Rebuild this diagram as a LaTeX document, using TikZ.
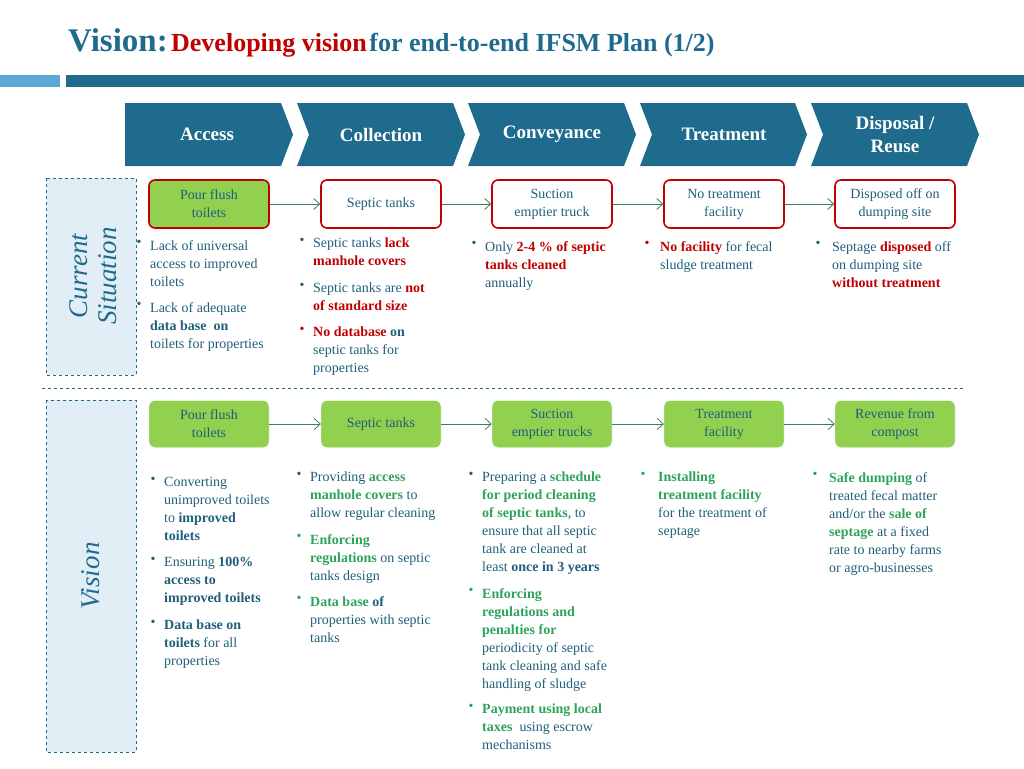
\documentclass[tikz,border=0pt]{standalone}
\usepackage{fontspec}
\setmainfont{Liberation Serif}
\usetikzlibrary{arrows.meta}
\definecolor{teal}{HTML}{1F6B8E}
\definecolor{txt}{HTML}{1F5F7A}
\definecolor{redd}{HTML}{C00000}
\definecolor{grn}{HTML}{2EA35A}
\definecolor{gfill}{HTML}{92D050}
\definecolor{lblue}{HTML}{5BA8D6}
\definecolor{sideb}{HTML}{E2EEF6}
\definecolor{arr}{HTML}{3E7D5E}
\newcommand{\rb}[1]{\textbf{\color{redd}#1}}
\newcommand{\gb}[1]{\textbf{\color{grn}#1}}
\newcommand{\tb}[1]{\textbf{#1}}
\begin{document}
\begin{tikzpicture}[x=1pt,y=-1pt,
  chev/.style={fill=teal,draw=none},
  chtxt/.style={text=white,font=\fontsize{19}{23}\selectfont\bfseries,align=center},
  cbox/.style={draw=redd,line width=1.6pt,fill=white,rounded corners=6pt,minimum width=120pt,minimum height=48pt,align=center,text=txt,font=\fontsize{14}{18}\selectfont},
  vbox/.style={draw=gfill!85!black!5,fill=gfill,rounded corners=6pt,minimum width=120pt,minimum height=47pt,align=center,text=txt,font=\fontsize{14}{18}\selectfont},
  flow/.style={draw=arr,line width=0.8pt,-{Straight Barb[length=6pt,width=11pt]}},
  body/.style={anchor=north west,align=left,text=txt,inner sep=0pt,font=\fontsize{14}{18}\selectfont},
  bul/.style={anchor=north,inner sep=0pt,font=\fontsize{14}{18}\selectfont},
  side/.style={draw=teal,dashed,fill=sideb,line width=0.6pt},
  stxt/.style={rotate=90,text=teal,align=center,font=\fontsize{27}{29}\selectfont\itshape}]
\useasboundingbox (0,0) rectangle (1024,768);
% title
\node[anchor=base west,inner sep=0pt,text=teal] (title) at (68,52) {{\fontsize{33}{36}\selectfont\bfseries Vision:} {\fontsize{26}{30}\selectfont\bfseries\color{redd}Developing vision} {\fontsize{26}{30}\selectfont\bfseries for end-to-end IFSM Plan (1/2)}};
\fill[lblue] (0,75) rectangle (60,87);
\fill[teal] (66,75) rectangle (1024,87);
% chevrons
\fill[chev] (125,103)--(281,103)--(293,134.5)--(281,166)--(125,166)--cycle;
\foreach \a/\b in {297/465,468/636,640/807,811/979}{
  \fill[chev] (\a,103)--(\b-12,103)--(\b,134.5)--(\b-12,166)--(\a,166)--(\a+12,134.5)--cycle;}
\node[chtxt] (h1) at (207,134.5) {Access};
\node[chtxt] (h2) at (381,134.5) {Collection};
\node[chtxt] (h3) at (552,134.5) {Conveyance};
\node[chtxt] (h4) at (724,134.5) {Treatment};
\node[chtxt] (h5) at (895,134.5) {Disposal /\\Reuse};
% side labels
\draw[side] (46,178) rectangle (136,375);
\node[stxt] (cs) at (93,276) {Current\\Situation};
\draw[side] (46,400) rectangle (136,752);
\node[stxt] (vs) at (91,576) {Vision};
\draw[teal,dashed,line width=0.6pt] (42,388) -- (965,388);
% current boxes
\node[cbox,fill=gfill] (c1) at (209,204) {Pour flush\\toilets};
\node[cbox] (c2) at (381,204) {Septic tanks};
\node[cbox] (c3) at (552,204) {Suction\\emptier truck};
\node[cbox] (c4) at (724,204) {No treatment\\facility};
\node[cbox] (c5) at (895,204) {Disposed off on\\dumping site};
\foreach \p/\q in {c1/c2,c2/c3,c3/c4,c4/c5}{\draw[flow] (\p) -- (\q);}
% vision boxes
\node[vbox] (v1) at (209,424) {Pour flush\\toilets};
\node[vbox] (v2) at (381,424) {Septic tanks};
\node[vbox] (v3) at (552,424) {Suction\\emptier trucks};
\node[vbox] (v4) at (724,424) {Treatment\\facility};
\node[vbox] (v5) at (895,424) {Revenue from\\compost};
\foreach \p/\q in {v1/v2,v2/v3,v3/v4,v4/v5}{\draw[flow] (\p) -- (\q);}
% current texts
\node[bul,text=txt] (b11) at (139,240) {•};
\node[body] (t11) at (150,240) {Lack of universal\\access to improved\\toilets};
\node[bul,text=txt] (b12) at (139,302) {•};
\node[body] (t12) at (150,302) {Lack of adequate\\\tb{data base\ \ on}\\toilets for properties};
\node[bul,text=txt] (b21) at (302,238) {•};
\node[body] (t21) at (313,238) {Septic tanks \rb{lack}\\\rb{manhole covers}};
\node[bul,text=txt] (b22) at (302,283) {•};
\node[body] (t22) at (313,283) {Septic tanks are \rb{not}\\\rb{of standard size}};
\node[bul,text=redd] (b23) at (302,327) {•};
\node[body] (t23) at (313,327) {\rb{No database} \tb{on}\\septic tanks for\\properties};
\node[bul,text=txt] (b31) at (474,241) {•};
\node[body] (t31) at (485,241) {Only \rb{2-4 \% of septic}\\\rb{tanks cleaned}\\annually};
\node[bul,text=redd] (b41) at (647,241) {•};
\node[body] (t41) at (660,241) {\rb{No facility} for fecal\\sludge treatment};
\node[bul,text=txt] (b51) at (818,241) {•};
\node[body] (t51) at (832,241) {Septage \rb{disposed} off\\on dumping site\\\rb{without treatment}};
% vision texts
\node[bul,text=txt] (w11) at (153,477) {•};
\node[body] (u11) at (164,477) {Converting\\unimproved toilets\\to \tb{improved}\\\tb{toilets}};
\node[bul,text=txt] (w12) at (153,557) {•};
\node[body] (u12) at (164,557) {Ensuring \tb{100\%}\\\tb{access to}\\\tb{improved toilets}};
\node[bul,text=txt] (w13) at (153,620) {•};
\node[body] (u13) at (164,620) {\tb{Data base on}\\\tb{toilets} for all\\properties};
\node[bul,text=txt] (w21) at (299,472) {•};
\node[body] (u21) at (310,472) {Providing \gb{access}\\\gb{manhole covers} to\\allow regular cleaning};
\node[bul,text=grn] (w22) at (299,534) {•};
\node[body] (u22) at (310,534) {\gb{Enforcing}\\\gb{regulations} on septic\\tanks design};
\node[bul,text=grn] (w23) at (299,596) {•};
\node[body] (u23) at (310,596) {\gb{Data base} \tb{of}\\properties with septic\\tanks};
\node[bul,text=txt] (w31) at (471,472) {•};
\node[body] (u31) at (482,472) {Preparing a \gb{schedule}\\\gb{for period cleaning}\\\gb{of septic tanks}, to\\ensure that all septic\\tank are cleaned at\\least \tb{once in 3 years}};
\node[bul,text=grn] (w32) at (471,588) {•};
\node[body] (u32) at (482,588) {\gb{Enforcing}\\\gb{regulations and}\\\gb{penalties for}\\periodicity of septic\\tank cleaning and safe\\handling of sludge};
\node[bul,text=grn] (w33) at (471,704) {•};
\node[body] (u33) at (482,704) {\gb{Payment using local}\\\gb{taxes}\ \ using escrow\\mechanisms};
\node[bul,text=grn] (w41) at (643,472) {•};
\node[body] (u41) at (658,472) {\gb{Installing}\\\gb{treatment facility}\\for the treatment of\\septage};
\node[bul,text=grn] (w51) at (815,472) {•};
\node[body] (u51) at (829,472) {\gb{Safe dumping} of\\treated fecal matter\\and/or the \gb{sale of}\\\gb{septage} at a fixed\\rate to nearby farms\\or agro-businesses};
\end{tikzpicture}
\end{document}
